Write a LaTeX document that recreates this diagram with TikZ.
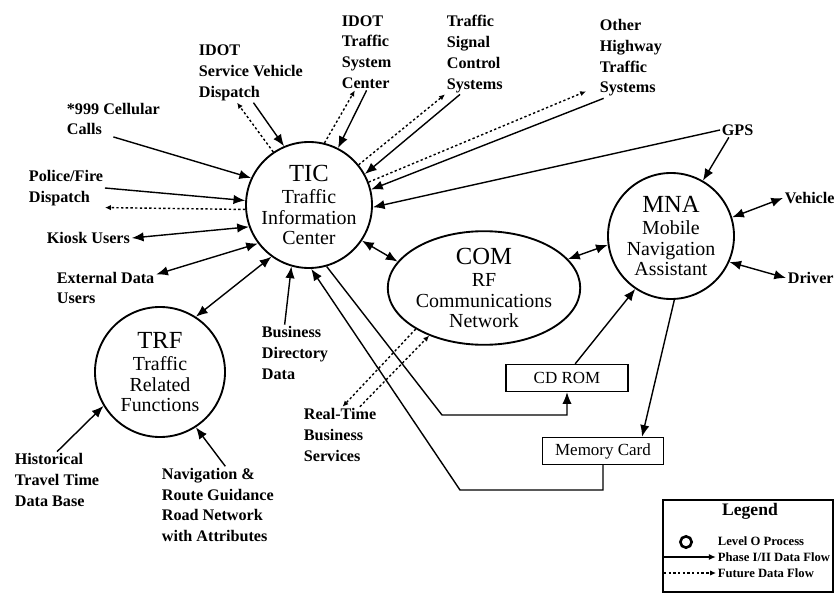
\documentclass[tikz,border=0pt]{standalone}
\usepackage{fontspec}
\setmainfont{Liberation Serif}
\usetikzlibrary{arrows.meta, positioning, calc, shapes.geometric}
\tikzset{
->, % every flow is directed
>={Latex[length=10pt,width=8pt]}, % big filled heads as in the scan
x=0.03cm, y=-0.03cm, % one unit is one pixel of the scan, y runs downwards
every picture/.style={line width=1.2pt}, % flows are drawn heavy
proc/.style={circle, draw, line width=1.6pt, inner sep=0pt, align=center, font=\fontsize{17}{17.5}\selectfont}, % a level 0 process
ext/.style={anchor=west, align=left, inner sep=1pt, font=\fontsize{13.8}{17.7}\selectfont\bfseries}, % outside source or sink
store/.style={rectangle, draw, minimum height=0.81cm, inner sep=0pt, font=\fontsize{14.5}{14.5}\selectfont}, % a data store
future/.style={dash pattern=on 2pt off 2pt, -{Latex[length=5pt,width=4.5pt]}}, % planned flow
legtext/.style={anchor=west, inner sep=1pt, font=\fontsize{10.8}{10.8}\selectfont\bfseries}, % legend entry
legflow/.style={-{Latex[length=6pt,width=5pt]}}, % smaller head for the legend
}

\begin{document}
\begin{tikzpicture}
\useasboundingbox (0,0) rectangle (835,594);

% processes
\node[proc, minimum size=3.78cm] (tic) at (309,205) {{\fontsize{21}{21}\selectfont TIC}\\[2pt]Traffic\\Information\\Center};
\node[proc, ellipse, minimum width=5.22cm, minimum height=3cm] (com) at (484,288) {{\fontsize{21}{21}\selectfont COM}\\[2pt]RF\\Communications\\Network};
\node[proc, minimum size=3.78cm] (mna) at (671,236) {{\fontsize{21}{21}\selectfont MNA}\\[2pt]Mobile\\Navigation\\Assistant};
\node[proc, minimum size=3.9cm] (trf) at (160,372) {{\fontsize{21}{21}\selectfont TRF}\\[2pt]Traffic\\Related\\Functions};

% data stores
\node[store, minimum width=3.66cm] (cdrom) at (567,378) {CD ROM};
\node[store, minimum width=3.63cm] (memcard) at (603,451) {Memory Card};

% outside sources and sinks
\node[ext] (cell) at (65,119) {*999 Cellular\\Calls};
\node[ext] (police) at (27,188) {Police/Fire\\Dispatch};
\node[ext] (kiosk) at (45,238) {Kiosk Users};
\node[ext] (extdata) at (55,288) {External Data\\Users};
\node[ext] (bizdir) at (260,353) {Business\\Directory\\Data};
\node[ext] (histdb) at (13,480) {Historical\\Travel Time\\Data Base};
\node[ext] (navdb) at (160,505) {Navigation \&\\Route Guidance\\Road Network\\with Attributes};
\node[ext] (rtbs) at (302,435) {Real-Time\\Business\\Services};
\node[ext] (svd) at (197,73) {IDOT\\Service Vehicle\\Dispatch};
\node[ext] (itsc) at (340,52) {IDOT\\Traffic\\System\\Center};
\node[ext] (tsc) at (445,54) {Traffic\\Signal\\Control\\Systems};
\node[ext] (ohts) at (598,58) {Other\\Highway\\Traffic\\Systems};
\node[ext] (gps) at (720,130) {GPS};
\node[ext] (vehicle) at (783,198) {Vehicle};
\node[ext] (driver) at (786,278) {Driver};

\coordinate (bendcd) at (442,415);
\coordinate (bendmc) at (460,490);

\path
    (cell.south) edge (tic.155)
    (police.east) edge (tic.176)
    (tic.184) edge[future] (police.south east)
    (kiosk.east) edge[<->] (tic.200)
    (extdata.15) edge[<->] (tic.217)
    (trf.57) edge[<->] (tic.234)
    (bizdir.110) edge (tic.254)
    (svd.-85) edge (tic.113)
    (tic.124) edge[future] (svd.245)
    (itsc.south) edge (tic.63)
    (tic.76) edge[future] (itsc.253)
    (tsc.250) edge (tic.29)
    (tic.39) edge[future] (tsc.south west)
    (ohts.236) edge (tic.14)
    (tic.21) edge[future] ($(ohts.south west)+(-12,-7)$)
    (gps.west) edge (tic.-2)
    (gps.-140) edge (mna.60)
    (mna.17) edge[<->] (vehicle.west)
    (mna.-24) edge[<->] (driver.west)
    (tic.-34) edge[<->] (com.163)
    (com.19) edge[<->] (mna.188)
    (com.211) edge[future] (rtbs.85)
    (rtbs.55) edge[future] (com.221)
    (cdrom.60) edge (mna.236)
    (mna.-87) edge (memcard.20)
    (histdb.north) edge (trf.211)
    (navdb.79) edge (trf.303);

\draw (tic.286) -- (bendcd) -| (cdrom.south);
\draw (memcard.south) |- (bendmc) -- (tic.272);

% legend
\node[draw, line width=1pt, minimum width=5.1cm, minimum height=2.76cm] (legendbox) at (748,546) {};
\node[font=\fontsize{15}{15}\selectfont\bfseries] (legendtitle) at (750,511) {Legend};
\node[circle, draw, line width=2.2pt, minimum size=0.34cm, inner sep=0pt] (lgcircle) at (686,542) {};
\node[legtext] (lglevel) at (716,541) {Level O Process};
\node[legtext] (lgphase) at (716,557) {Phase I/II Data Flow};
\node[legtext] (lgfuture) at (716,573) {Future Data Flow};
\coordinate (lgsolid) at (664,557);
\coordinate (lgdotted) at (664,573);
\path
    (lgsolid) edge[legflow] (lgphase.west)
    (lgdotted) edge[future] (lgfuture.west);
\end{tikzpicture}
\end{document}
